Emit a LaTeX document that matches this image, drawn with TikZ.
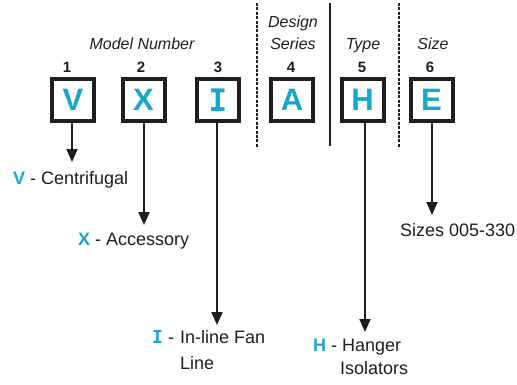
\documentclass[tikz,border=0pt]{standalone}
\usepackage{fontspec}
\setmainfont{Liberation Sans}
\newfontfamily\slabf{DejaVu Sans Mono}
\usetikzlibrary{arrows.meta}
\definecolor{cyn}{RGB}{22,168,200}
\definecolor{ink}{RGB}{30,30,30}
\newcommand{\lbl}[1]{\textcolor{cyn}{\textbf{#1}}}
\begin{document}
\begin{tikzpicture}[x=1pt,y=1pt,
  letterbox/.style={draw=ink,line width=4pt,minimum size=42pt,inner sep=0pt,
     text=cyn,font=\fontsize{31}{31}\selectfont\bfseries},
  numlbl/.style={anchor=base,inner sep=0pt,font=\fontsize{15}{15}\selectfont\bfseries,text=ink},
  headlbl/.style={anchor=base,inner sep=0pt,font=\fontsize{16}{16}\selectfont\itshape,text=ink},
  desc/.style={anchor=base west,inner sep=0pt,font=\fontsize{18}{18}\selectfont,text=ink},
  arr/.style={draw=ink,line width=2pt,-{Triangle[length=13pt,width=11pt]}},
  sepdash/.style={draw=ink,line width=1.1pt,dash pattern=on 3pt off 1.4pt},
  sepsolid/.style={draw=ink,line width=1.2pt}]
\useasboundingbox (0,0) rectangle (517,-384);
% separators
\coordinate (s1t) at (257,-3); \coordinate (s1b) at (257,-147);
\coordinate (s2t) at (330,-3); \coordinate (s2b) at (330,-146);
\coordinate (s3t) at (399,-3); \coordinate (s3b) at (399,-147);
\draw[sepdash] (s1t) -- (s1b);
\draw[sepsolid] (s2t) -- (s2b);
\draw[sepdash] (s3t) -- (s3b);
% headings
\node[headlbl] (hmodel) at (142,-49) {Model Number};
\node[headlbl] (hdesign) at (293,-27) {Design};
\node[headlbl] (hseries) at (293,-49) {Series};
\node[headlbl] (htype) at (363,-49) {Type};
\node[headlbl] (hsize) at (433,-49) {Size};
% numbers
\node[numlbl] (n1) at (67,-72) {1};
\node[numlbl] (n2) at (141,-72) {2};
\node[numlbl] (n3) at (218,-72) {3};
\node[numlbl] (n4) at (291,-72) {4};
\node[numlbl] (n5) at (362,-72) {5};
\node[numlbl] (n6) at (430,-72) {6};
% boxes
\node[letterbox] (bV) at (73,-100) {V};
\node[letterbox] (bX) at (143.5,-100) {X};
\node[letterbox] (bI) at (218,-100) {\slabf I};
\node[letterbox] (bA) at (292,-100) {A};
\node[letterbox] (bH) at (362.5,-100) {H};
\node[letterbox] (bE) at (431.5,-100) {E};
% arrow tips
\coordinate (tV) at (72,-162);
\coordinate (tX) at (144,-225);
\coordinate (tI) at (217,-325);
\coordinate (tH) at (365,-332);
\coordinate (tE) at (432,-215);
\draw[arr] (bV.south -| tV) -- (tV);
\draw[arr] (bX.south -| tX) -- (tX);
\draw[arr] (bI.south -| tI) -- (tI);
\draw[arr] (bH.south -| tH) -- (tH);
\draw[arr] (bE.south -| tE) -- (tE);
% descriptions
\node[desc] (dV) at (13,-184) {\lbl{V} - Centrifugal};
\node[desc] (dX) at (78,-245) {\lbl{X} - Accessory};
\node[desc] (dIa) at (152,-343) {\lbl{\slabf I} -};
\node[desc] (dIb) at (180,-343) {In-line Fan};
\node[desc] (dIc) at (180,-369) {Line};
\node[desc] (dHa) at (313,-351) {\lbl{H} - Hanger};
\node[desc] (dHb) at (340,-374) {Isolators};
\node[desc] (dE) at (400,-236) {Sizes 005-330};
\end{tikzpicture}
\end{document}
